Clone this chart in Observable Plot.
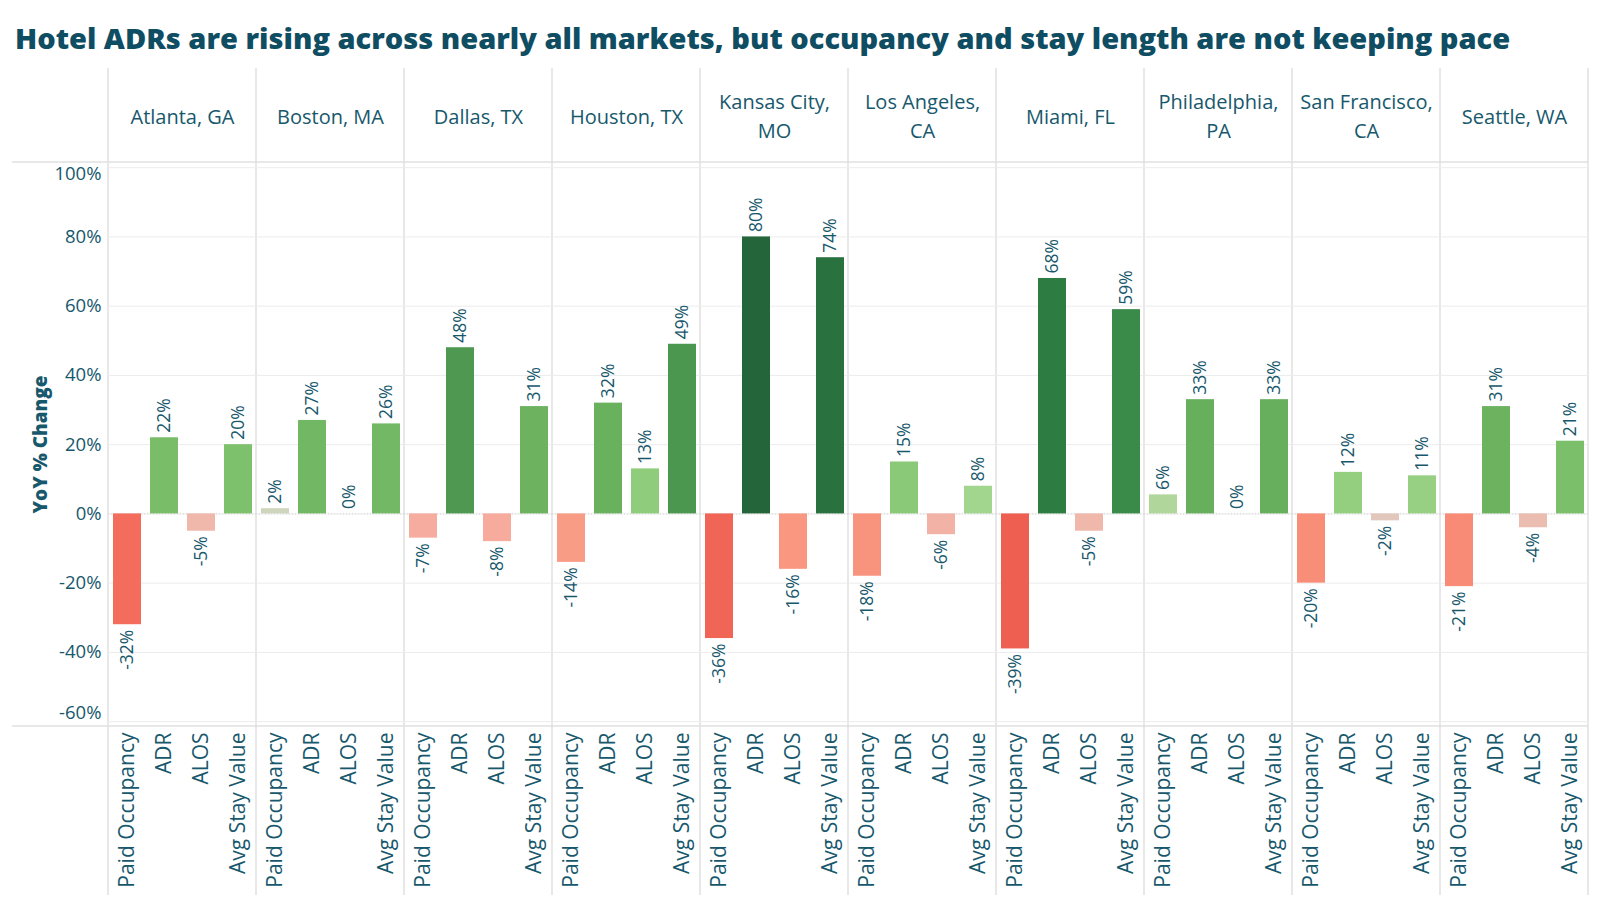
<!DOCTYPE html>
<html>
<head>
<meta charset="utf-8">
<script src="https://cdn.jsdelivr.net/npm/d3@7"></script>
<script src="https://cdn.jsdelivr.net/npm/@observablehq/plot@0.6"></script>
<style>
  body { margin: 0; background: #fff; font-family: "Open Sans", sans-serif; }
  #wrap { position: relative; width: 1600px; height: 900px; overflow: hidden; }
  #title { position: absolute; left: 15px; top: 19px; font-size: 29px; font-weight: 800; color: #0f4d63; line-height: 38px; white-space: nowrap; }
  #chart { position: absolute; left: 0; top: 60px; }
  [aria-label="y-axis label"] { font-weight: 800; font-size: 19px; }
</style>
</head>
<body>
<div id="wrap">
  <div id="title">Hotel ADRs are rising across nearly all markets, but occupancy and stay length are not keeping pace</div>
  <div id="chart"></div>
</div>
<script>
const markets = ["Atlanta, GA", "Boston, MA", "Dallas, TX", "Houston, TX", "Kansas City, MO", "Los Angeles, CA", "Miami, FL", "Philadelphia, PA", "San Francisco, CA", "Seattle, WA"];
const marketLabels = ["Atlanta, GA", "Boston, MA", "Dallas, TX", "Houston, TX", "Kansas City,\nMO", "Los Angeles,\nCA", "Miami, FL", "Philadelphia,\nPA", "San Francisco,\nCA", "Seattle, WA"];
const metrics = ["Paid Occupancy", "ADR", "ALOS", "Avg Stay Value"];
const paidOccupancy = [-32, 1.5, -7, -14, -36, -18, -39, 5.5, -20, -21];
const adr = [22, 27, 48, 32, 80, 15, 68, 33, 12, 31];
const alos = [-5, 0, -8, 13, -16, -6, -5, 0, -2, -4];
const avgStayValue = [20, 26, 31, 49, 74, 8, 59, 33, 11, 21];
const yTicks = [-60, -40, -20, 0, 20, 40, 60, 80, 100];

const colorStops = [-40, -32, -20, -14, -7, -3, 0, 3, 7, 13, 22, 32, 48, 59, 68, 80];
const colorRange = ["#ee5d4f", "#f46d5c", "#f88e78", "#f99c86", "#f6ada0", "#e7c2b6", "#d8d2c8", "#c4d7b1", "#a6d690", "#8fcd7c", "#79bd69", "#6ab15e", "#4e9851", "#3a8a49", "#2d7c42", "#24663a"];

const series = [paidOccupancy, adr, alos, avgStayValue];
const rows = markets.flatMap((m, i) => metrics.map((k, j) => ({market: m, metric: k, value: series[j][i]})));
const fmt = v => `${Math.round(v)}%`;
const ink = "#17586c";
const yDomain = [-61.4, 101.5];

const chart = Plot.plot({
  width: 1600,
  height: 835,
  marginTop: 102,
  marginBottom: 169,
  marginLeft: 108,
  marginRight: 12,
  style: {fontFamily: '"Open Sans", sans-serif', color: ink, background: "#fff", overflow: "visible"},
  fx: {domain: markets, padding: 0, axis: null},
  x: {domain: metrics, paddingInner: 0.25, paddingOuter: 0.125, axis: null},
  y: {domain: yDomain, axis: null},
  color: {type: "linear", domain: colorStops, range: colorRange, interpolate: "rgb"},
  marks: [
    Plot.gridY(yTicks, {stroke: "#ececec", strokeOpacity: 1}),
    Plot.ruleY([0], {stroke: "#d4d4d4", strokeDasharray: "1,2"}),
    Plot.axisY(yTicks.filter(t => t !== 100 && t !== -60), {tickFormat: d => `${d}%`, tickSize: 0, tickPadding: 7, fontSize: 18.5, label: "YoY % Change", labelAnchor: "center", labelOffset: 75, labelArrow: "none"}),
    Plot.axisY([100], {tickFormat: d => `${d}%`, tickSize: 0, tickPadding: 7, fontSize: 18.5, dy: 6, label: null}),
    Plot.axisY([-60], {tickFormat: d => `${d}%`, tickSize: 0, tickPadding: 7, fontSize: 18.5, dy: -9, label: null}),
    Plot.barY(rows, {fx: "market", x: "metric", y: "value", fill: "value"}),
    Plot.text(rows.filter(d => d.value >= 0), {fx: "market", x: "metric", y: "value", text: d => fmt(d.value), rotate: -90, textAnchor: "start", dy: -5, fontSize: 17.5, fill: ink}),
    Plot.text(rows.filter(d => d.value < 0), {fx: "market", x: "metric", y: "value", text: d => fmt(d.value), rotate: -90, textAnchor: "end", dy: 5, fontSize: 17.5, fill: ink}),
    Plot.text(markets, {fx: d => d, text: (d, i) => marketLabels[i], frameAnchor: "top", dy: -48, lineAnchor: "middle", lineHeight: 1.45, fontSize: 20, fill: ink}),
    Plot.axisX({tickRotate: -90, tickSize: 0, tickPadding: 6, fontSize: 21, label: null})
  ]
});

document.getElementById("chart").appendChild(chart);

// separator lines drawn from the plot's own scales
const svg = d3.select(chart);
const fxs = chart.scale("fx");
const ys = chart.scale("y");
const bounds = markets.map(m => fxs.apply(m));
bounds.push(fxs.apply(markets[markets.length - 1]) + fxs.bandwidth);
const yTop = ys.apply(yDomain[1]);
const yBot = ys.apply(yDomain[0]);
const g = svg.insert("g", ":first-child").attr("stroke", "#e0e0e0").attr("stroke-width", 1.5);
g.selectAll("line.v").data(bounds).join("line")
  .attr("x1", d => d).attr("x2", d => d).attr("y1", 8).attr("y2", 835);
g.selectAll("line.h").data([yTop, yBot]).join("line")
  .attr("x1", 12).attr("x2", bounds[bounds.length - 1]).attr("y1", d => d).attr("y2", d => d);
</script>
</body>
</html>
